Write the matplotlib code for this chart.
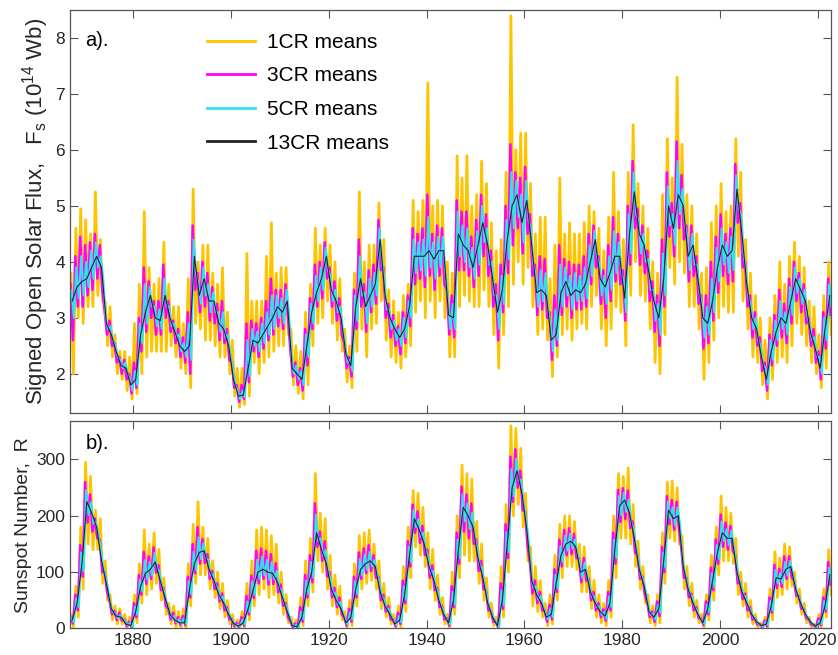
import numpy as np
import matplotlib
matplotlib.use("Agg")
import matplotlib.pyplot as plt

plt.rcParams['font.family'] = ['Liberation Sans', 'DejaVu Sans']
plt.rcParams['mathtext.fontset'] = 'custom'
plt.rcParams['mathtext.rm'] = 'Liberation Sans'
plt.rcParams['mathtext.it'] = 'Liberation Sans'
plt.rcParams['mathtext.default'] = 'regular'

# ---- data: one value per year, 1867 .. 2022 ----
years = np.arange(1867, 2023)

# a) signed open solar flux (1e14 Wb)
fs_13cr = [3.3, 3.55, 3.65,
           3.7, 3.9, 4.1, 3.9, 2.9, 2.7, 2.4, 2.15, 2.1, 1.8,
           1.9, 2.7, 3.1, 3.4, 3.0, 2.95, 3.4, 3.0, 2.75, 2.5,
           2.4, 2.5, 4.1, 3.4, 3.7, 3.3, 3.3, 2.9, 2.8, 2.5,
           1.9, 1.6, 1.62, 2.1, 2.6, 2.55, 2.7, 2.85, 3.0, 3.2,
           3.1, 3.3, 2.1, 2.0, 1.9, 2.5, 3.1, 3.45, 3.7, 4.1,
           3.5, 3.3, 3.0, 2.35, 2.15, 3.2, 3.7, 3.2, 3.4, 3.6,
           4.4, 3.4, 3.0, 2.8, 2.65, 2.8, 3.2, 4.1, 4.1, 4.1,
           4.2, 4.05, 4.2, 4.2, 3.05, 3.0, 4.5, 4.3, 4.2, 3.9,
           4.3, 4.7, 4.3, 3.7, 3.1, 3.5, 4.4, 5.0, 5.2, 4.7,
           5.1, 4.3, 3.45, 3.5, 3.4, 2.6, 2.7, 3.45, 3.65, 3.4,
           3.5, 3.45, 3.6, 4.0, 4.4, 3.7, 3.55, 3.8, 4.1, 4.1,
           3.35, 4.5, 5.25, 4.5, 4.3, 3.8, 3.3, 3.0, 3.7, 5.0,
           4.6, 5.2, 5.0, 4.1, 4.3, 3.7, 3.0, 2.9, 3.3, 3.9,
           4.3, 4.1, 4.2, 5.3, 4.5, 3.6, 3.0, 2.8, 2.3, 1.9,
           2.4, 2.75, 3.0, 2.9, 3.3, 3.7, 3.5, 3.3, 2.75, 2.45,
           2.1, 2.8, 3.4]
fs_1cr_hi = [3.8, 4.6, 4.95,
             4.75, 4.5, 5.25, 4.4, 3.3, 3.2, 2.7, 2.4, 2.4, 2.3,
             2.9, 3.6, 4.9, 3.9, 3.6, 3.7, 4.35, 3.6, 3.2, 3.2,
             2.9, 3.7, 5.3, 4.0, 4.3, 4.3, 3.8, 3.6, 3.9, 3.1,
             2.6, 2.1, 2.1, 4.15, 3.3, 3.3, 3.3, 4.1, 4.7, 3.8,
             3.9, 3.9, 2.8, 2.5, 2.4, 3.1, 3.6, 4.6, 4.3, 4.6,
             4.3, 4.0, 3.7, 2.8, 2.5, 3.8, 5.25, 4.0, 4.3, 4.3,
             5.05, 4.4, 3.5, 3.3, 3.1, 3.4, 3.6, 5.1, 4.9, 5.1,
             7.2, 5.0, 5.1, 5.0, 4.0, 3.8, 5.9, 5.5, 5.9, 5.0,
             5.2, 5.8, 5.4, 4.7, 4.2, 4.4, 5.6, 8.4, 6.0, 6.3,
             6.3, 5.4, 4.5, 4.8, 4.8, 3.7, 4.3, 5.5, 4.5, 4.7,
             4.5, 4.5, 4.7, 5.0, 4.9, 4.6, 4.2, 4.8, 5.6, 4.9,
             4.4, 5.6, 6.45, 5.4, 5.0, 4.6, 4.0, 3.8, 5.2, 6.2,
             5.5, 7.3, 6.1, 5.2, 5.0, 4.5, 3.8, 3.9, 4.7, 5.0,
             5.4, 4.9, 5.0, 6.2, 5.6, 4.4, 3.8, 3.4, 3.0, 2.6,
             3.0, 3.4, 4.0, 3.6, 4.1, 4.35, 4.1, 3.9, 3.3, 3.2,
             2.7, 3.4, 4.0]
fs_1cr_lo = [2.0, 3.0, 2.9,
             3.2, 3.2, 3.4, 3.3, 2.5, 2.3, 2.0, 1.9, 1.7, 1.55,
             1.65, 2.0, 2.3, 2.4, 2.4, 2.4, 2.4, 2.5, 2.3, 2.1,
             2.0, 1.75, 2.9, 2.8, 2.6, 2.6, 2.5, 2.3, 2.3, 2.0,
             1.6, 1.4, 1.45, 1.6, 2.2, 2.0, 2.2, 2.3, 2.4, 2.5,
             2.5, 2.7, 1.8, 1.65, 1.55, 1.8, 2.5, 2.9, 3.0, 3.3,
             2.9, 2.6, 2.4, 1.85, 1.75, 2.4, 2.8, 2.3, 2.8, 2.9,
             3.3, 2.6, 2.3, 2.2, 2.1, 2.3, 2.5, 3.1, 3.3, 3.0,
             3.3, 3.0, 3.3, 3.0, 2.3, 2.3, 3.2, 3.4, 3.3, 3.2,
             3.2, 3.5, 3.2, 2.7, 2.1, 2.7, 3.2, 3.6, 4.0, 3.6,
             3.9, 3.2, 2.7, 2.8, 2.6, 1.95, 2.3, 2.7, 2.8, 2.6,
             2.8, 2.9, 2.8, 3.2, 3.4, 2.8, 2.5, 2.8, 3.2, 3.1,
             2.5, 3.4, 4.0, 3.4, 3.3, 2.8, 2.2, 2.0, 2.7, 3.9,
             3.6, 4.0, 3.8, 3.2, 3.2, 2.8, 1.9, 2.2, 2.6, 3.0,
             3.2, 3.1, 3.1, 4.1, 3.3, 2.8, 2.3, 2.2, 1.8, 1.55,
             1.9, 2.2, 2.3, 2.2, 2.5, 2.9, 2.7, 2.5, 2.2, 2.0,
             1.75, 2.1, 2.7]
fs_3cr_hi = [3.6, 4.1, 4.45,
             4.3, 4.35, 4.5, 4.3, 3.1, 2.95, 2.55, 2.3, 2.25, 2.0,
             2.2, 3.0, 3.9, 3.65, 3.3, 3.3, 3.95, 3.3, 2.95, 2.8,
             2.65, 3.1, 4.65, 3.8, 4.0, 3.8, 3.55, 3.25, 3.3, 2.8,
             2.2, 1.8, 1.8, 2.9, 2.95, 2.9, 3.0, 3.3, 3.7, 3.5,
             3.5, 3.6, 2.4, 2.2, 2.1, 2.8, 3.35, 3.95, 4.0, 4.35,
             3.9, 3.65, 3.35, 2.55, 2.3, 3.5, 4.4, 3.6, 3.85, 3.95,
             4.75, 3.9, 3.25, 3.05, 2.85, 3.1, 3.4, 4.6, 4.5, 4.6,
             5.2, 4.5, 4.65, 4.6, 3.5, 3.4, 5.1, 4.9, 4.9, 4.45,
             4.75, 5.2, 4.85, 4.2, 3.6, 3.95, 5.0, 6.1, 5.6, 5.5,
             5.7, 4.85, 3.95, 4.1, 4.05, 3.1, 3.4, 4.3, 4.05, 4.0,
             3.95, 3.95, 4.1, 4.5, 4.65, 4.1, 3.85, 4.3, 4.8, 4.5,
             3.85, 5.0, 5.8, 4.95, 4.65, 4.2, 3.65, 3.4, 4.4, 5.6,
             5.05, 6.15, 5.55, 4.65, 4.65, 4.1, 3.4, 3.4, 4.0, 4.45,
             4.85, 4.5, 4.6, 5.75, 5.05, 4.0, 3.4, 3.1, 2.65, 2.2,
             2.7, 3.05, 3.5, 3.25, 3.7, 4.0, 3.8, 3.6, 3.0, 2.8,
             2.4, 3.1, 3.7]
fs_3cr_lo = [2.6, 3.2, 3.2,
             3.4, 3.5, 3.7, 3.5, 2.7, 2.5, 2.2, 2.0, 1.9, 1.65,
             1.75, 2.4, 2.75, 3.0, 2.7, 2.7, 3.0, 2.75, 2.55, 2.3,
             2.2, 2.0, 3.5, 3.1, 3.2, 2.95, 2.9, 2.6, 2.55, 2.25,
             1.75, 1.5, 1.55, 1.85, 2.4, 2.3, 2.45, 2.6, 2.7, 2.85,
             2.8, 3.0, 1.95, 1.8, 1.7, 2.15, 2.8, 3.2, 3.35, 3.7,
             3.2, 2.95, 2.7, 2.1, 1.95, 2.8, 3.2, 2.75, 3.1, 3.25,
             3.85, 3.0, 2.65, 2.5, 2.35, 2.55, 2.85, 3.6, 3.7, 3.55,
             3.75, 3.5, 3.75, 3.6, 2.7, 2.65, 3.85, 3.85, 3.75, 3.55,
             3.75, 4.1, 3.75, 3.2, 2.6, 3.1, 3.8, 4.3, 4.6, 4.15,
             4.5, 3.75, 3.05, 3.15, 3.0, 2.25, 2.5, 3.05, 3.2, 3.0,
             3.15, 3.15, 3.2, 3.6, 3.9, 3.25, 3.0, 3.3, 3.65, 3.6,
             2.95, 3.95, 4.6, 3.95, 3.8, 3.3, 2.75, 2.5, 3.2, 4.45,
             4.1, 4.6, 4.4, 3.65, 3.75, 3.25, 2.45, 2.55, 2.95, 3.45,
             3.75, 3.6, 3.65, 4.7, 3.9, 3.2, 2.65, 2.5, 2.05, 1.7,
             2.15, 2.5, 2.65, 2.55, 2.9, 3.3, 3.1, 2.9, 2.5, 2.2,
             1.9, 2.45, 3.05]
fs_5cr_hi = [3.5, 3.9, 4.1,
             4.0, 4.2, 4.35, 4.1, 3.0, 2.85, 2.5, 2.25, 2.2, 1.9,
             2.05, 2.9, 3.6, 3.55, 3.2, 3.15, 3.7, 3.2, 2.9, 2.7,
             2.55, 2.9, 4.4, 3.6, 3.9, 3.6, 3.45, 3.1, 3.1, 2.7,
             2.1, 1.7, 1.7, 2.6, 2.8, 2.75, 2.9, 3.1, 3.4, 3.4,
             3.35, 3.5, 2.3, 2.15, 2.05, 2.7, 3.25, 3.75, 3.9, 4.25,
             3.75, 3.5, 3.2, 2.5, 2.25, 3.4, 4.1, 3.45, 3.7, 3.8,
             4.6, 3.7, 3.15, 2.95, 2.8, 3.0, 3.3, 4.4, 4.35, 4.4,
             4.8, 4.35, 4.45, 4.45, 3.35, 3.25, 4.9, 4.65, 4.6, 4.25,
             4.55, 5.0, 4.6, 4.0, 3.4, 3.75, 4.75, 5.6, 5.45, 5.2,
             5.45, 4.6, 3.75, 3.85, 3.8, 2.9, 3.15, 3.95, 3.9, 3.75,
             3.8, 3.75, 3.9, 4.3, 4.55, 3.95, 3.75, 4.1, 4.55, 4.35,
             3.65, 4.85, 5.6, 4.75, 4.5, 4.05, 3.5, 3.25, 4.15, 5.35,
             4.85, 5.8, 5.3, 4.45, 4.5, 3.95, 3.25, 3.2, 3.7, 4.25,
             4.6, 4.35, 4.45, 5.55, 4.85, 3.85, 3.25, 3.0, 2.5, 2.1,
             2.6, 2.95, 3.3, 3.1, 3.55, 3.9, 3.7, 3.5, 2.9, 2.65,
             2.3, 3.0, 3.6]
fs_5cr_lo = [3.0, 3.35, 3.4,
             3.55, 3.7, 3.9, 3.7, 2.8, 2.6, 2.3, 2.1, 2.0, 1.7,
             1.8, 2.55, 2.9, 3.2, 2.85, 2.8, 3.2, 2.85, 2.65, 2.4,
             2.3, 2.25, 3.8, 3.25, 3.4, 3.1, 3.1, 2.75, 2.65, 2.35,
             1.8, 1.55, 1.58, 1.95, 2.5, 2.4, 2.55, 2.7, 2.8, 3.0,
             2.9, 3.1, 2.0, 1.9, 1.8, 2.3, 2.9, 3.3, 3.5, 3.85,
             3.3, 3.1, 2.8, 2.2, 2.05, 2.95, 3.4, 2.9, 3.2, 3.4,
             4.05, 3.15, 2.8, 2.6, 2.5, 2.65, 3.0, 3.8, 3.85, 3.75,
             3.9, 3.7, 3.9, 3.8, 2.8, 2.8, 4.1, 4.0, 3.9, 3.7,
             3.95, 4.35, 3.95, 3.4, 2.8, 3.25, 4.05, 4.6, 4.8, 4.35,
             4.75, 3.95, 3.2, 3.3, 3.15, 2.4, 2.6, 3.2, 3.4, 3.15,
             3.3, 3.3, 3.35, 3.75, 4.1, 3.4, 3.25, 3.5, 3.8, 3.8,
             3.1, 4.15, 4.85, 4.15, 4.0, 3.5, 2.95, 2.7, 3.4, 4.65,
             4.3, 4.85, 4.65, 3.85, 3.95, 3.45, 2.65, 2.7, 3.1, 3.65,
             3.95, 3.8, 3.85, 4.95, 4.15, 3.35, 2.8, 2.6, 2.15, 1.8,
             2.25, 2.6, 2.8, 2.7, 3.05, 3.45, 3.25, 3.05, 2.6, 2.3,
             2.0, 2.6, 3.2]

# b) sunspot number
r_13cr = [15, 45, 115,
          225, 205, 180, 120, 80, 35, 22, 20, 8, 5,
          30, 75, 98, 105, 118, 85, 55, 25, 15, 10,
          10, 70, 115, 135, 138, 105, 85, 60, 45, 25,
          9, 4, 10, 35, 68, 100, 105, 100, 98, 82,
          55, 30, 5, 3, 20, 70, 100, 170, 140, 115,
          70, 50, 35, 10, 20, 70, 105, 115, 120, 110,
          65, 40, 25, 8, 15, 60, 130, 195, 175, 150,
          110, 85, 50, 25, 10, 50, 140, 215, 200, 180,
          125, 90, 45, 20, 5, 50, 150, 250, 280, 240,
          175, 85, 60, 45, 20, 25, 80, 130, 150, 155,
          145, 100, 105, 65, 45, 30, 22, 45, 140, 218,
          228, 205, 160, 105, 75, 30, 20, 35, 120, 210,
          195, 200, 110, 70, 45, 25, 10, 35, 85, 135,
          170, 160, 160, 100, 65, 45, 25, 12, 5, 8,
          40, 90, 88, 105, 110, 70, 45, 25, 12, 4,
          10, 40, 95]
r_1cr_hi = [25, 75, 180,
            295, 270, 210, 195, 120, 60, 40, 35, 25, 20,
            60, 115, 175, 150, 170, 140, 90, 45, 40, 30,
            35, 115, 185, 225, 180, 160, 120, 100, 80, 50,
            25, 15, 30, 80, 120, 175, 180, 175, 165, 150,
            100, 60, 20, 15, 55, 120, 160, 275, 205, 195,
            130, 95, 75, 30, 50, 115, 165, 170, 175, 150,
            120, 80, 55, 25, 40, 110, 180, 245, 240, 215,
            170, 140, 95, 55, 25, 100, 200, 290, 275, 265,
            190, 150, 90, 45, 20, 110, 220, 360, 355, 320,
            240, 145, 110, 85, 45, 60, 130, 185, 200, 200,
            190, 150, 145, 110, 85, 60, 45, 85, 200, 275,
            270, 285, 220, 155, 110, 60, 40, 60, 170, 260,
            262, 250, 165, 110, 80, 50, 25, 60, 130, 180,
            235, 215, 205, 160, 100, 80, 50, 25, 10, 20,
            70, 136, 125, 150, 145, 100, 70, 45, 20, 8,
            25, 70, 140]
r_1cr_lo = [3, 20, 70,
            150, 140, 140, 80, 50, 15, 8, 8, 0, 0,
            10, 45, 60, 70, 80, 50, 25, 8, 3, 2,
            2, 40, 80, 95, 95, 70, 55, 35, 20, 8,
            0, 0, 0, 15, 40, 60, 70, 55, 60, 45,
            25, 10, 0, 0, 5, 40, 65, 120, 100, 70,
            40, 25, 15, 0, 5, 40, 70, 80, 85, 70,
            35, 20, 8, 0, 2, 30, 90, 145, 130, 110,
            70, 50, 25, 8, 0, 25, 90, 130, 120, 120,
            80, 50, 20, 5, 0, 20, 100, 200, 220, 180,
            120, 40, 30, 20, 5, 8, 50, 90, 110, 110,
            105, 65, 65, 35, 20, 10, 5, 20, 90, 160,
            160, 150, 110, 70, 45, 10, 5, 10, 80, 160,
            155, 150, 70, 40, 20, 10, 2, 15, 50, 95,
            120, 120, 115, 60, 40, 20, 8, 2, 0, 0,
            15, 55, 60, 70, 75, 45, 25, 10, 2, 0,
            2, 20, 60]
r_3cr_hi = [20, 60, 148,
            260, 238, 195, 158, 100, 48, 31, 28, 16, 12,
            45, 95, 136, 128, 144, 112, 72, 35, 28, 20,
            22, 92, 150, 180, 159, 132, 102, 80, 62, 38,
            17, 10, 20, 58, 94, 138, 142, 138, 132, 116,
            78, 45, 12, 9, 38, 95, 130, 222, 172, 155,
            100, 72, 55, 20, 35, 92, 135, 142, 148, 130,
            92, 60, 40, 16, 28, 85, 155, 220, 208, 182,
            140, 112, 72, 40, 18, 75, 170, 252, 238, 222,
            158, 120, 68, 32, 12, 80, 185, 305, 318, 280,
            208, 115, 85, 65, 32, 42, 105, 158, 175, 178,
            168, 125, 125, 88, 65, 45, 34, 65, 170, 246,
            249, 245, 190, 130, 92, 45, 30, 48, 145, 235,
            228, 225, 138, 90, 62, 38, 18, 48, 108, 158,
            202, 188, 182, 130, 82, 62, 38, 18, 8, 14,
            55, 113, 106, 128, 128, 85, 58, 35, 16, 6,
            18, 55, 118]
r_3cr_lo = [9, 32, 92,
            188, 172, 160, 100, 65, 25, 15, 14, 4, 2,
            20, 60, 79, 88, 99, 68, 40, 16, 9, 6,
            6, 55, 98, 115, 116, 88, 70, 48, 32, 16,
            4, 2, 5, 25, 54, 80, 88, 78, 79, 64,
            40, 20, 2, 2, 12, 55, 82, 145, 120, 92,
            55, 38, 25, 5, 12, 55, 88, 98, 102, 90,
            50, 30, 16, 4, 8, 45, 110, 170, 152, 130,
            90, 68, 38, 16, 5, 38, 115, 172, 160, 150,
            102, 70, 32, 12, 2, 35, 125, 225, 250, 210,
            148, 62, 45, 32, 12, 16, 65, 110, 130, 132,
            125, 82, 85, 50, 32, 20, 14, 32, 115, 189,
            194, 178, 135, 88, 60, 20, 12, 22, 100, 185,
            175, 175, 90, 55, 32, 18, 6, 25, 68, 115,
            145, 140, 138, 80, 52, 32, 16, 7, 2, 4,
            28, 72, 74, 88, 92, 58, 35, 18, 7, 2,
            6, 30, 78]
r_5cr_hi = [18, 54, 135,
            246, 224, 189, 142, 92, 42, 27, 24, 13, 10,
            39, 87, 121, 118, 134, 102, 66, 31, 22, 16,
            18, 84, 136, 162, 151, 122, 96, 72, 56, 32,
            14, 7, 16, 48, 84, 122, 128, 122, 118, 102,
            68, 39, 10, 7, 30, 85, 118, 202, 160, 139,
            88, 64, 47, 16, 29, 84, 123, 132, 136, 122,
            82, 52, 34, 13, 22, 75, 145, 210, 194, 170,
            128, 102, 64, 34, 14, 65, 158, 238, 222, 206,
            144, 108, 58, 28, 10, 68, 171, 283, 302, 264,
            194, 103, 75, 57, 28, 36, 95, 146, 165, 168,
            158, 115, 117, 78, 57, 39, 29, 57, 158, 235,
            241, 229, 178, 120, 86, 39, 26, 42, 135, 225,
            215, 215, 126, 82, 56, 32, 14, 42, 98, 148,
            190, 176, 174, 118, 76, 56, 32, 16, 6, 12,
            49, 104, 99, 118, 120, 79, 52, 31, 14, 5,
            14, 49, 108]
r_5cr_lo = [11, 38, 101,
            202, 186, 168, 108, 71, 29, 18, 16, 6, 3,
            24, 66, 87, 94, 107, 74, 46, 20, 11, 8,
            8, 61, 104, 123, 125, 94, 76, 52, 38, 20,
            6, 3, 7, 29, 60, 88, 94, 86, 87, 71,
            46, 24, 3, 2, 16, 61, 90, 155, 128, 102,
            61, 42, 29, 7, 16, 61, 94, 104, 110, 98,
            56, 34, 20, 6, 11, 51, 118, 180, 162, 138,
            98, 74, 42, 20, 7, 42, 125, 190, 176, 162,
            112, 78, 38, 16, 3, 41, 135, 235, 262, 222,
            158, 72, 51, 38, 16, 20, 71, 118, 138, 142,
            133, 90, 93, 56, 38, 24, 17, 38, 125, 201,
            207, 188, 145, 94, 66, 24, 16, 28, 108, 195,
            183, 185, 98, 61, 38, 20, 8, 29, 74, 123,
            155, 148, 146, 88, 58, 38, 20, 9, 3, 6,
            32, 80, 80, 94, 100, 62, 39, 20, 9, 3,
            8, 34, 84]

labels = ["1CR means", "3CR means", "5CR means", "13CR means"]
colors = ["#FFC400", "#FF00FF", "#2DE3F0", "#222222"]
widths = [2.0, 1.8, 1.5, 0.8]


# hi / lo of each year drawn as one up-down swing
def zigzag(hi, lo, a, b):
    x = np.column_stack([years + a, years + b]).ravel()
    y = np.column_stack([hi, lo]).ravel()
    return x, y


def draw_panel(ax, s1, s3, s5, s13):
    x, y = zigzag(s1[0], s1[1], 0.25, 0.75)
    ax.plot(x, y, color=colors[0], lw=widths[0], label=labels[0])
    x, y = zigzag(s3[0], s3[1], 0.15, 0.65)
    ax.plot(x, y, color=colors[1], lw=widths[1], label=labels[1])
    x, y = zigzag(s5[0], s5[1], 0.35, 0.85)
    ax.plot(x, y, color=colors[2], lw=widths[2], label=labels[2])
    ax.plot(years + 0.5, s13, color=colors[3], lw=widths[3], label=labels[3])


def style_axes(ax):
    ax.tick_params(direction="in", length=6, width=0.8, top=True, right=True,
                   labelsize=12.5, colors="#555555", labelcolor="#262626")
    for sp in ax.spines.values():
        sp.set_color("#555555")
        sp.set_linewidth(0.9)
    ax.set_xlim(1867.05, 2022.7)
    ax.set_xticks(np.arange(1880, 2021, 20))


fig = plt.figure(figsize=(8.38, 6.55), dpi=100)
ax1 = fig.add_axes([0.0835, 0.3695, 0.908, 0.6152])
ax2 = fig.add_axes([0.0835, 0.0405, 0.908, 0.3165])

# ---- panel a ----
draw_panel(ax1, (fs_1cr_hi, fs_1cr_lo), (fs_3cr_hi, fs_3cr_lo),
           (fs_5cr_hi, fs_5cr_lo), fs_13cr)
style_axes(ax1)
ax1.set_ylim(1.3, 8.5)
ax1.set_yticks(range(2, 9))
ax1.set_xticklabels([])
ax1.set_ylabel("Signed Open Solar Flux,   F$_s$ (10$^{14}$ Wb)", fontsize=16,
               color="#262626", labelpad=3)
ax1.text(0.02, 0.925, "a).", transform=ax1.transAxes, fontsize=14.5,
         va="center", ha="left")
leg = ax1.legend(loc="upper left", bbox_to_anchor=(0.155, 0.99), frameon=False,
                 fontsize=15, handlelength=2.3, handletextpad=0.58,
                 labelspacing=0.7)
for ln in leg.get_lines():
    ln.set_linewidth(2.0)

# ---- panel b ----
draw_panel(ax2, (r_1cr_hi, r_1cr_lo), (r_3cr_hi, r_3cr_lo),
           (r_5cr_hi, r_5cr_lo), r_13cr)
style_axes(ax2)
ax2.set_ylim(0, 368)
ax2.set_yticks([0, 100, 200, 300])
ax2.set_ylabel("Sunspot Number,  R", fontsize=14, color="#262626", labelpad=3)
ax2.text(0.02, 0.89, "b).", transform=ax2.transAxes, fontsize=14.5,
         va="center", ha="left")

fig.savefig("out.png", dpi=100)
